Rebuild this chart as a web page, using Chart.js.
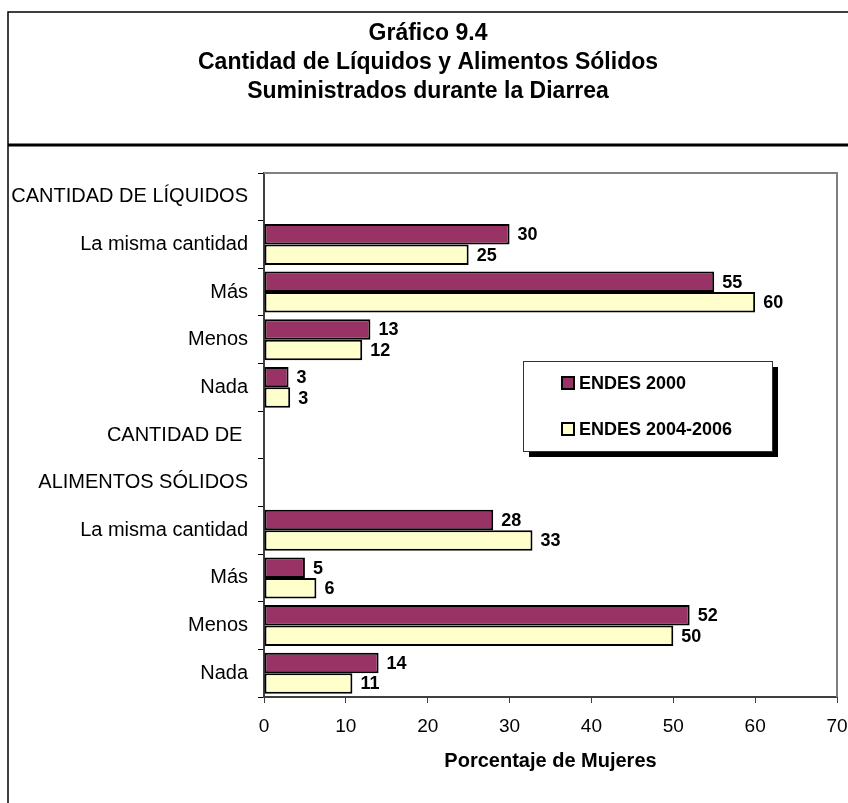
<!DOCTYPE html>
<html>
<head>
<meta charset="utf-8">
<script src="https://cdn.jsdelivr.net/npm/chart.js@4.4.1/dist/chart.umd.min.js"></script>
<style>
html,body{margin:0;padding:0;background:#fff;}
canvas{display:block;}
</style>
</head>
<body>
<canvas id="c" width="848" height="803"></canvas>
<script>
// ---------- data ----------
const titleLines = ['Gráfico 9.4', 'Cantidad de Líquidos y Alimentos Sólidos', 'Suministrados durante la Diarrea'];
const categories = ['CANTIDAD DE LÍQUIDOS', 'La misma cantidad', 'Más', 'Menos', 'Nada',
  'CANTIDAD DE ', 'ALIMENTOS SÓLIDOS', 'La misma cantidad', 'Más', 'Menos', 'Nada'];
const seriesNames = ['ENDES 2000', 'ENDES 2004-2006'];
const endes2000 = [null, 30, 55, 13, 3, null, null, 28, 5, 52, 14];
const endes2004 = [null, 25, 60, 12, 3.2, null, null, 32.8, 6.4, 50, 10.8];
const xTickValues = [0, 10, 20, 30, 40, 50, 60, 70];
const xAxisTitle = 'Porcentaje de Mujeres';

// ---------- styles ----------
const FONT = "'Liberation Sans', Arial, sans-serif";
const colors = ['#993366', '#FFFFCC'];

const pagePlugin = {
  id: 'page',
  beforeDraw(chart) {
    const ctx = chart.ctx;
    ctx.save();
    ctx.fillStyle = '#fff';
    ctx.fillRect(0, 0, chart.width, chart.height);
    ctx.strokeStyle = '#000';
    ctx.lineWidth = 1.5;
    ctx.beginPath();
    ctx.moveTo(8, chart.height + 2); ctx.lineTo(8, 12); ctx.lineTo(chart.width + 2, 12);
    ctx.stroke();
    ctx.lineWidth = 3;
    ctx.beginPath();
    ctx.moveTo(8, 145); ctx.lineTo(chart.width + 2, 145);
    ctx.stroke();
    ctx.fillStyle = '#000';
    ctx.font = 'bold 23px ' + FONT;
    ctx.textAlign = 'center';
    ctx.textBaseline = 'middle';
    const ys = [34, 63, 92];
    titleLines.forEach((t, i) => ctx.fillText(t, 428, ys[i]));
    ctx.restore();
  },
  afterDatasetsDraw(chart) {
    const ctx = chart.ctx;
    const a = chart.chartArea;
    ctx.save();
    // frame top/right
    ctx.strokeStyle = '#808080';
    ctx.lineWidth = 2;
    ctx.beginPath();
    ctx.moveTo(a.left, a.top); ctx.lineTo(a.right, a.top); ctx.lineTo(a.right, a.bottom);
    ctx.stroke();
    // data labels
    ctx.fillStyle = '#000';
    ctx.font = 'bold 18px ' + FONT;
    ctx.textAlign = 'left';
    ctx.textBaseline = 'middle';
    chart.data.datasets.forEach((ds, di) => {
      const meta = chart.getDatasetMeta(di);
      meta.data.forEach((bar, i) => {
        const v = ds.data[i];
        if (v === null || v === undefined) return;
        ctx.fillText(String(Math.round(v)), bar.x + 8, bar.y + 1);
      });
    });
    // legend
    const lx = a.left + 259, ly = a.top + 188, lw = 249, lh = 90;
    ctx.fillStyle = '#000';
    ctx.fillRect(lx + 6, ly + 6, lw, lh);
    ctx.fillStyle = '#fff';
    ctx.fillRect(lx, ly, lw, lh);
    ctx.strokeStyle = '#333';
    ctx.lineWidth = 1;
    ctx.strokeRect(lx + 0.5, ly + 0.5, lw, lh);
    ctx.font = 'bold 18px ' + FONT;
    chart.data.datasets.forEach((ds, di) => {
      const cy = ly + 22 + di * 46;
      ctx.fillStyle = ds.backgroundColor;
      ctx.fillRect(lx + 39, cy - 6, 12, 12);
      ctx.strokeStyle = '#000';
      ctx.lineWidth = 2;
      ctx.strokeRect(lx + 39, cy - 6, 12, 12);
      ctx.fillStyle = '#000';
      ctx.fillText(ds.label, lx + 56, cy + 1);
    });
    ctx.restore();
  }
};

new Chart(document.getElementById('c'), {
  type: 'bar',
  data: {
    labels: categories,
    datasets: [
      { label: seriesNames[0], data: endes2000, backgroundColor: colors[0], borderColor: '#000', borderWidth: 2, borderSkipped: false },
      { label: seriesNames[1], data: endes2004, backgroundColor: colors[1], borderColor: '#000', borderWidth: 2, borderSkipped: false }
    ]
  },
  options: {
    indexAxis: 'y',
    responsive: false,
    animation: false,
    devicePixelRatio: 1,
    layout: { padding: { top: 173, right: 11, bottom: 30, left: 0 } },
    datasets: { bar: { categoryPercentage: 0.86, barPercentage: 1 } },
    plugins: { legend: { display: false }, tooltip: { enabled: false }, title: { display: false } },
    scales: {
      x: {
        type: 'linear',
        min: 0, max: 70,
        afterBuildTicks(scale) { scale.ticks = xTickValues.map(v => ({ value: v })); },
        afterFit(scale) { scale.height = 76; scale.paddingRight = 0; scale.paddingLeft = 0; },
        grid: { drawOnChartArea: false, drawTicks: true, tickLength: 6, color: '#404040', lineWidth: 1 },
        border: { display: true, color: '#404040', width: 2 },
        ticks: { color: '#000', font: { family: FONT, size: 19 }, padding: 12, maxRotation: 0 },
        title: { display: true, text: xAxisTitle, color: '#000', font: { family: FONT, size: 20, weight: 'bold' }, padding: 0 }
      },
      y: {
        type: 'category',
        afterFit(scale) { scale.width = 264; },
        grid: { drawOnChartArea: false, drawTicks: true, tickLength: 6, color: '#000', lineWidth: 1, offset: true },
        border: { display: true, color: '#404040', width: 2 },
        ticks: { color: '#000', font: { family: FONT, size: 20 }, padding: 10, autoSkip: false }
      }
    }
  },
  plugins: [pagePlugin]
});
</script>
</body>
</html>
